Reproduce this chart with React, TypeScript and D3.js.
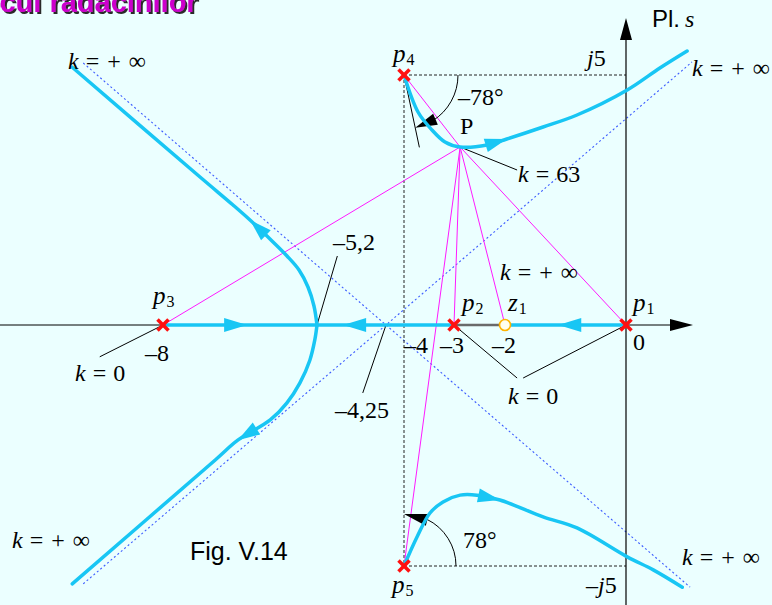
import React from "react";
import * as d3 from "d3";

const W = 772;
const H = 605;

// Open-loop poles and zero in the s-plane
const poleRe = [0, -3, -8, -4, -4];
const poleIm = [0, 0, 0, 5, -5];
const poleNames = ["1", "2", "3", "4", "5"];
const zeroRe = [-2];
const zeroIm = [0];

const breakawayPoint = -5.2;
const asymptoteCenter = -4.25;
const departureAngleDeg = 78;
const pointP: [number, number] = [-2.88, 3.56];
const gainAtP = 63;

// Complex branches of the locus (re, im)
const branchUpperLeft: [number, number][] = [
  [-5.2, 0], [-5.255, 0.38], [-5.364, 0.76], [-5.527, 1.1], [-5.745, 1.38],
  [-6.018, 1.68], [-6.418, 2.1], [-6.727, 2.4], [-7.327, 2.96], [-9.655, 5.16],
];
const branchLowerLeft: [number, number][] = [
  [-5.2, 0], [-5.24, -0.31], [-5.33, -0.73], [-5.51, -1.2], [-5.75, -1.62],
  [-6.05, -1.97], [-6.64, -2.39], [-7.05, -2.8], [-9.65, -5.37],
];
const branchFromP4: [number, number][] = [
  [-4, 5], [-3.72, 4.26], [-3.44, 3.9], [-3.18, 3.66], [-2.88, 3.56],
  [-2.35, 3.6], [-1.97, 3.72], [-1.37, 3.96], [-0.81, 4.2],
  [0.02, 4.7], [0.56, 5.14], [1.01, 5.48],
];
const branchFromP5: [number, number][] = [
  [-4, -5], [-3.74, -4.4], [-3.48, -3.9], [-3.22, -3.67], [-2.88, -3.53],
  [-2.55, -3.53], [-2.1, -3.63], [-1.37, -3.98], [-0.81, -4.21], [0.02, -4.81],
  [0.45, -5.08], [0.93, -5.44],
];
// index of the point where each branch carries its direction arrow
const branchArrowIdx = [6, 6, 6, 6];

// Real-axis segments of the locus: [start, end] in direction of increasing k
const realSegments: [number, number][] = [
  [-8, -5.2],
  [-3, -5.2],
  [0, -2],
];
const realArrowTips = [-6.47, -4.84, -1.12];
const realArrowDirs = [1, -1, -1];

// Asymptote end points (both pass through the centroid)
const asymptoteEnds: [[number, number], [number, number]][] = [
  [[-9.45, 5.24], [1.06, -5.44]],
  [[-9.45, -5.37], [1.09, 5.26]],
];

const CYAN = "#18c6f4";
const MAGENTA = "#ff1aff";
const SERIF = "'Liberation Serif', 'Times New Roman', serif";
const SANS = "'Liberation Sans', Arial, sans-serif";

const x = d3
  .scaleLinear()
  .domain([-8, breakawayPoint, asymptoteCenter, -4, -3, -2, 0])
  .range([163, 317, 386, 404, 454, 505, 626]);
const y = d3.scaleLinear().domain([-5, 0, 5]).range([566, 325, 75]);

const px = (p: [number, number]): [number, number] => [x(p[0]), y(p[1])];

function arrowHead(tip: [number, number], from: [number, number], len = 22, half = 7) {
  const dx = tip[0] - from[0];
  const dy = tip[1] - from[1];
  const d = Math.hypot(dx, dy) || 1;
  const ux = dx / d;
  const uy = dy / d;
  const bx = tip[0] - ux * len;
  const by = tip[1] - uy * len;
  return `M${tip[0]},${tip[1]}L${bx - uy * half},${by + ux * half}L${bx + uy * half},${by - ux * half}Z`;
}

const curve = d3
  .line<[number, number]>()
  .x((d) => x(d[0]))
  .y((d) => y(d[1]))
  .curve(d3.curveCatmullRom.alpha(0.5));

const poly = d3
  .line<[number, number]>()
  .x((d) => x(d[0]))
  .y((d) => y(d[1]));

function KEq({ xPos, yPos, value }: { xPos: number; yPos: number; value: string }) {
  return (
    <text x={xPos} y={yPos} fontFamily={SERIF} fontSize={24} fill="#000">
      <tspan fontStyle="italic">k</tspan>
      <tspan dx={7}>=</tspan>
      {value === "inf" ? (
        <>
          <tspan dx={8}>+</tspan>
          <tspan dx={8}>∞</tspan>
        </>
      ) : (
        <tspan dx={7}>{value}</tspan>
      )}
    </text>
  );
}

function Sub({ xPos, yPos, base, sub }: { xPos: number; yPos: number; base: string; sub: string }) {
  return (
    <text x={xPos} y={yPos} fontFamily={SERIF} fontSize={25} fill="#000">
      <tspan fontStyle="italic">{base}</tspan>
      <tspan fontSize={16} dy={3} dx={1}>
        {sub}
      </tspan>
    </text>
  );
}

export default function App() {
  const branches = [branchUpperLeft, branchLowerLeft, branchFromP4, branchFromP5];
  const poles = poleRe.map((re, i) => [re, poleIm[i]] as [number, number]);
  const zeros = zeroRe.map((re, i) => [re, zeroIm[i]] as [number, number]);
  const pP = px(pointP);
  const p4 = px(poles[3]);
  const p5 = px(poles[4]);
  const xAxisY = y(0);
  const yAxisX = x(0);

  // departure-angle annotation at p4 (screen angles, y down)
  const dep = (departureAngleDeg * Math.PI) / 180;
  const rTop = 54;
  const topArc = d3.path();
  topArc.arc(p4[0], p4[1], rTop, 0, (58 * Math.PI) / 180, false);
  const topTip: [number, number] = [p4[0] + rTop * Math.cos(dep), p4[1] + rTop * Math.sin(dep)];
  const topBase: [number, number] = [
    p4[0] + rTop * Math.cos((56 * Math.PI) / 180),
    p4[1] + rTop * Math.sin((56 * Math.PI) / 180),
  ];
  const tangentLen = 74;

  const rBot = 52;
  const botArc = d3.path();
  botArc.arc(p5[0], p5[1], rBot, 0, (-64 * Math.PI) / 180, true);
  const botTipA = (-90 * Math.PI) / 180;
  const botBaseA = (-62 * Math.PI) / 180;
  const botTip: [number, number] = [p5[0] + rBot * Math.cos(botTipA), p5[1] + rBot * Math.sin(botTipA)];
  const botBase: [number, number] = [p5[0] + rBot * Math.cos(botBaseA), p5[1] + rBot * Math.sin(botBaseA)];

  return (
    <div style={{ position: "absolute", left: 0, top: 0, width: W, height: H }}>
      <svg width={W} height={H} viewBox={`0 0 ${W} ${H}`} style={{ display: "block" }}>
        <defs>
          <filter id="titleShadow" x="-5%" y="-50%" width="110%" height="200%">
            <feDropShadow dx={2} dy={2} stdDeviation={0.4} floodColor="#2a2a2a" floodOpacity={1} />
          </filter>
        </defs>
        <rect x={0} y={0} width={W} height={H} fill="#ebffff" />

        {/* title */}
        <text
          x={-36}
          y={12}
          fontFamily={SANS}
          fontWeight="bold"
          fontSize={29}
          fill="#cc00cc"
          filter="url(#titleShadow)"
        >
          Locul rădăcinilor
        </text>

        {/* asymptotes */}
        {asymptoteEnds.map((e, i) => (
          <path
            key={`as${i}`}
            d={poly([e[0], [asymptoteCenter, 0], e[1]]) || ""}
            fill="none"
            stroke="#3d5cff"
            strokeWidth={1.1}
            strokeDasharray="2,2.5"
          />
        ))}

        {/* projection lines of the complex poles */}
        <g stroke="#222" strokeWidth={1} strokeDasharray="3,2" fill="none">
          <line x1={p4[0]} y1={p4[1]} x2={p4[0]} y2={p5[1]} />
          <line x1={p4[0]} y1={p4[1]} x2={yAxisX} y2={p4[1]} />
          <line x1={p5[0]} y1={p5[1]} x2={yAxisX} y2={p5[1]} />
        </g>

        {/* axes */}
        <line x1={0} y1={xAxisY} x2={672} y2={xAxisY} stroke="#000" strokeWidth={1} />
        <path d={arrowHead([693, xAxisY], [600, xAxisY], 23, 6)} fill="#000" />
        <line x1={yAxisX} y1={H} x2={yAxisX} y2={38} stroke="#000" strokeWidth={1.2} />
        <path d={arrowHead([yAxisX, 18], [yAxisX, 100], 22, 6)} fill="#000" />

        {/* segment between p2 and z1, not part of the locus */}
        <line x1={x(-3)} y1={xAxisY} x2={x(-2)} y2={xAxisY} stroke="#6a6a6a" strokeWidth={2.5} />

        {/* vectors from P to poles and zero */}
        <g stroke={MAGENTA} strokeWidth={1}>
          {[...poles, ...zeros].map((p, i) => {
            const q = px(p);
            return <line key={`v${i}`} x1={pP[0]} y1={pP[1]} x2={q[0]} y2={q[1]} />;
          })}
        </g>

        {/* leader lines */}
        <g stroke="#000" strokeWidth={1}>
          <line x1={x(breakawayPoint)} y1={xAxisY} x2={x(-4.92)} y2={y(1.38)} />
          <line x1={x(asymptoteCenter)} y1={xAxisY} x2={x(-4.57)} y2={y(-1.41)} />
          <line x1={x(-8)} y1={xAxisY} x2={x(-9.15)} y2={y(-0.66)} />
          <line x1={x(-3)} y1={xAxisY} x2={x(-1.8)} y2={y(-1.1)} />
          <line x1={x(0)} y1={xAxisY} x2={x(-1.7)} y2={y(-1.1)} />
          <line x1={pP[0]} y1={pP[1]} x2={x(-1.8)} y2={y(3.1)} />
          <line
            x1={p4[0]}
            y1={p4[1]}
            x2={p4[0] + tangentLen * Math.cos(dep)}
            y2={p4[1] + tangentLen * Math.sin(dep)}
          />
        </g>

        {/* angle arcs */}
        <path d={topArc.toString()} fill="none" stroke="#000" strokeWidth={1} />
        <path d={arrowHead(topTip, topBase, 22, 6)} fill="#000" />
        <path d={botArc.toString()} fill="none" stroke="#000" strokeWidth={1} />
        <path d={arrowHead(botTip, botBase, 24, 6)} fill="#000" />

        {/* locus on the real axis */}
        {realSegments.map((s, i) => (
          <line
            key={`rs${i}`}
            x1={x(s[0])}
            y1={xAxisY}
            x2={x(s[1])}
            y2={xAxisY}
            stroke={CYAN}
            strokeWidth={3.5}
          />
        ))}
        {realArrowTips.map((t, i) => (
          <path
            key={`ra${i}`}
            d={arrowHead([x(t), xAxisY], [x(t) - realArrowDirs[i] * 30, xAxisY], 23, 7)}
            fill={CYAN}
          />
        ))}

        {/* complex branches */}
        {branches.map((b, i) => (
          <path
            key={`b${i}`}
            d={curve(b) || ""}
            fill="none"
            stroke={CYAN}
            strokeWidth={3.5}
            strokeLinejoin="round"
            strokeLinecap="round"
          />
        ))}
        {branches.map((b, i) => {
          const k = branchArrowIdx[i];
          return <path key={`ba${i}`} d={arrowHead(px(b[k]), px(b[k - 1]), 22, 7)} fill={CYAN} />;
        })}

        {/* zero */}
        {zeros.map((z, i) => (
          <circle key={`z${i}`} cx={x(z[0])} cy={y(z[1])} r={5.5} fill="#fffff0" stroke="#ffb400" strokeWidth={1.6} />
        ))}
        {/* poles */}
        {poles.map((p, i) => {
          const [cx, cy] = px(p);
          const s = 5.5;
          return (
            <g key={`p${i}`} stroke="#ff1010" strokeWidth={3.6} strokeLinecap="butt">
              <line x1={cx - s} y1={cy - s} x2={cx + s} y2={cy + s} />
              <line x1={cx - s} y1={cy + s} x2={cx + s} y2={cy - s} />
            </g>
          );
        })}

        {/* labels */}
        <text x={652} y={27} fontFamily={SANS} fontSize={24} fill="#000">
          Pl.
          <tspan fontFamily={SERIF} fontStyle="italic" dx={5}>
            s
          </tspan>
        </text>

        <Sub xPos={p4[0] - 11} yPos={62} base="p" sub={poleNames[3]} />
        <Sub xPos={p5[0] - 12} yPos={593} base="p" sub={poleNames[4]} />
        <Sub xPos={x(-8) - 10} yPos={304} base="p" sub={poleNames[2]} />
        <Sub xPos={x(-3) + 8} yPos={311} base="p" sub={poleNames[1]} />
        <Sub xPos={x(0) + 7} yPos={311} base="p" sub={poleNames[0]} />
        <Sub xPos={x(-2) + 3} yPos={311} base="z" sub="1" />

        <g fontFamily={SERIF} fontSize={24} fill="#000">
          <text x={587} y={66}>
            <tspan fontStyle="italic">j</tspan>5
          </text>
          <text x={586} y={593}>
            –<tspan fontStyle="italic">j</tspan>5
          </text>
          <text x={x(-8) - 18} y={361}>–8</text>
          <text x={x(-4)} y={353}>–4</text>
          <text x={x(-3) - 14} y={353}>–3</text>
          <text x={x(-2) - 13} y={353}>–2</text>
          <text x={x(0) + 7} y={350}>0</text>
          <text x={333} y={250}>–{String(-breakawayPoint).replace(".", ",")}</text>
          <text x={335} y={418}>–{String(-asymptoteCenter).replace(".", ",")}</text>
          <text x={458} y={105}>–{departureAngleDeg}°</text>
          <text x={463} y={548}>{departureAngleDeg}°</text>
          <text x={pP[0]} y={134}>P</text>
        </g>

        <KEq xPos={68} yPos={69} value="inf" />
        <KEq xPos={692} yPos={76} value="inf" />
        <KEq xPos={500} yPos={280} value="inf" />
        <KEq xPos={12} yPos={548} value="inf" />
        <KEq xPos={682} yPos={565} value="inf" />
        <KEq xPos={518} yPos={182} value={String(gainAtP)} />
        <KEq xPos={75} yPos={381} value="0" />
        <KEq xPos={508} yPos={404} value="0" />

        <text x={190} y={560} fontFamily={SANS} fontSize={25} fill="#000">
          Fig. V.14
        </text>
      </svg>
    </div>
  );
}
